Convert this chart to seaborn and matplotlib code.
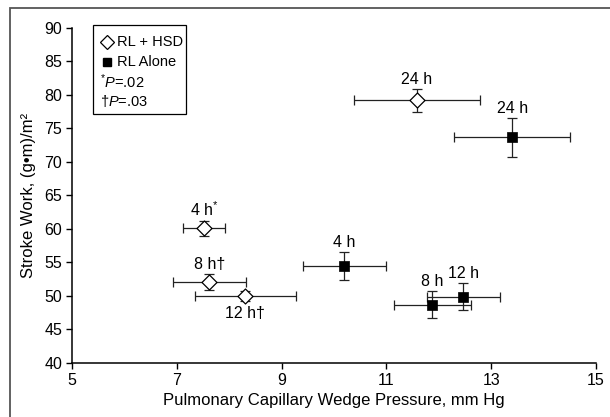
import matplotlib
matplotlib.use("Agg")
import matplotlib.pyplot as plt
import seaborn as sns
import pandas as pd
from matplotlib.patches import Rectangle

# ---- data ----
hsd_labels = ["4 h$^{*}$", "8 h†", "12 h†", "24 h"]
hsd_x = [7.52, 7.62, 8.31, 11.58]
hsd_xerr = [0.40, 0.70, 0.97, 1.20]
hsd_y = [60.1, 52.1, 50.0, 79.2]
hsd_yerr = [1.1, 1.2, 0.8, 1.7]

rl_labels = ["4 h", "8 h", "12 h", "24 h"]
rl_x = [10.20, 11.88, 12.47, 13.40]
rl_xerr = [0.80, 0.73, 0.70, 1.10]
rl_y = [54.5, 48.7, 49.9, 73.7]
rl_yerr = [2.1, 2.0, 2.0, 2.9]

x_ticks = [5, 7, 9, 11, 13, 15]
y_ticks = [40, 45, 50, 55, 60, 65, 70, 75, 80, 85, 90]

sns.set_style("ticks")
FONT = ["Liberation Sans", "DejaVu Sans"]
plt.rcParams["font.family"] = FONT
plt.rcParams["mathtext.fontset"] = "custom"
plt.rcParams["mathtext.rm"] = "Liberation Sans"
plt.rcParams["mathtext.it"] = "Liberation Sans:italic"
for k in ["text.color", "axes.labelcolor", "xtick.color", "ytick.color"]:
    plt.rcParams[k] = "black"

fig = plt.figure(figsize=(6.1, 4.17), dpi=100)
ax = fig.add_axes([0.118, 0.1295, 0.859, 0.8035])

# figure frame (left/top visible)
fig.patches.append(Rectangle((10 / 610, -0.1), 1.2, 1 - 8 / 417 + 0.1,
                             transform=fig.transFigure, fill=False,
                             edgecolor="#555555", linewidth=1.3))

ecol = "#222222"
ax.errorbar(hsd_x, hsd_y, xerr=hsd_xerr, yerr=hsd_yerr, fmt="none",
            ecolor=ecol, elinewidth=0.9, capsize=3.5, capthick=0.9, zorder=2)
ax.errorbar(rl_x, rl_y, xerr=rl_xerr, yerr=rl_yerr, fmt="none",
            ecolor=ecol, elinewidth=0.9, capsize=3.5, capthick=0.9, zorder=2)

df_h = pd.DataFrame({"x": hsd_x, "y": hsd_y})
df_r = pd.DataFrame({"x": rl_x, "y": rl_y})
sns.scatterplot(data=df_h, x="x", y="y", marker="D", s=58, facecolor="white",
                edgecolor="black", linewidth=0.9, ax=ax, zorder=3)
sns.scatterplot(data=df_r, x="x", y="y", marker="s", s=50, color="black",
                edgecolor="black", linewidth=0.5, ax=ax, zorder=3)

below = {"12 h†"}
lab_fs = 11.5
for labs, xs, ys, yes in [(hsd_labels, hsd_x, hsd_y, hsd_yerr),
                          (rl_labels, rl_x, rl_y, rl_yerr)]:
    for lab, x, y, ye in zip(labs, xs, ys, yes):
        if lab in below:
            ax.annotate(lab, (x, y - ye), xytext=(0, -3), textcoords="offset points",
                        ha="center", va="top", fontsize=lab_fs)
        else:
            ax.annotate(lab, (x, y + ye), xytext=(0, 1.5), textcoords="offset points",
                        ha="center", va="bottom", fontsize=lab_fs)

ax.set_xlim(5, 15)
ax.set_ylim(40, 90)
ax.set_xticks(x_ticks)
ax.set_yticks(y_ticks)
ax.tick_params(direction="out", length=4, width=1, labelsize=11.5, pad=3)
for s in ["top", "right"]:
    ax.spines[s].set_visible(False)
for s in ["left", "bottom"]:
    ax.spines[s].set_linewidth(1.1)
    ax.spines[s].set_color("black")
ax.set_xlabel("Pulmonary Capillary Wedge Pressure, mm Hg", fontsize=12, labelpad=4)
ax.set_ylabel("Stroke Work, (g•m)/m²", fontsize=12, labelpad=6)

# legend box
leg_fs = 10.5
ax.add_patch(Rectangle((0.040, 0.743), 0.177, 0.266, transform=ax.transAxes,
                       fill=False, edgecolor="black", linewidth=0.9, zorder=5,
                       clip_on=False))
lx = 0.067
ax.plot([lx], [0.958], transform=ax.transAxes, marker="D", markersize=7,
        markerfacecolor="white", markeredgecolor="black", markeredgewidth=0.9,
        linestyle="none", clip_on=False)
ax.plot([lx], [0.899], transform=ax.transAxes, marker="s", markersize=6,
        color="black", linestyle="none", clip_on=False)
ax.text(lx + 0.018, 0.958, "RL + HSD", transform=ax.transAxes, va="center", fontsize=leg_fs)
ax.text(lx + 0.018, 0.899, "RL Alone", transform=ax.transAxes, va="center", fontsize=leg_fs)
ax.text(lx - 0.013, 0.839, r"$^{*}\mathit{P}$=.02", transform=ax.transAxes, va="center", fontsize=leg_fs)
ax.text(lx - 0.013, 0.782, r"†$\mathit{P}$=.03", transform=ax.transAxes, va="center", fontsize=leg_fs)

fig.savefig("out.png", dpi=100)
